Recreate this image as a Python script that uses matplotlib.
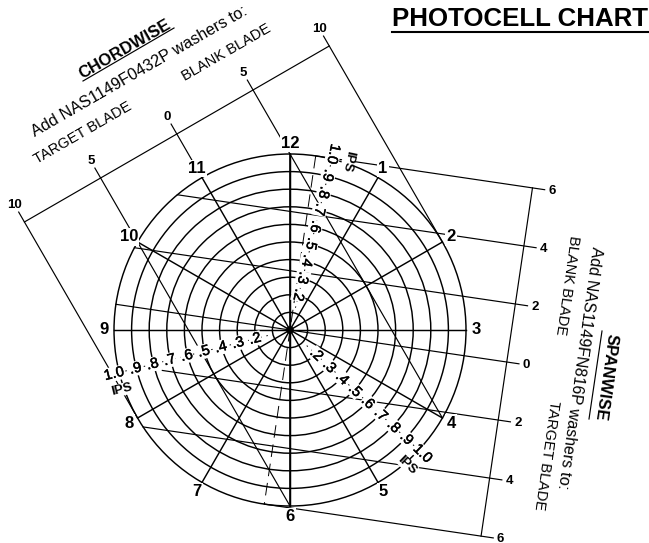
import numpy as np
import matplotlib
matplotlib.use("Agg")
import matplotlib.pyplot as plt
import matplotlib.patheffects as pe
from matplotlib.patches import Circle

plt.rcParams['font.family'] = ['Liberation Sans', 'DejaVu Sans']

# ---- data ----
ips_rings = [.1, .2, .3, .4, .5, .6, .7, .8, .9, 1.0]
clock_hours = [12, 1, 2, 3, 4, 5, 6, 7, 8, 9, 10, 11]
chord_ticks = [-10, -5, 0, 5, 10]
span_ticks = [6, 4, 2, 0, -2, -4, -6]
ips_label_values = [.2, .3, .4, .5, .6, .7, .8, .9, 1.0]
ips_label_text = ['.2', '.3', '.4', '.5', '.6', '.7', '.8', '.9', '1.0']
ips_scale_angles = [13.8, 133.0, 256.0]     # clock bearing of each printed scale
ips_scale_rot = [-102, -44, 14]
ips_word_angles = [19.0, 139.0, 250.5]
span_tilt = 8.4
span_left_limit = {-2: -0.684}

W, H = 649, 543
CX, CY, R = 290.0, 330.0, 176.0

fig = plt.figure(figsize=(W / 100, H / 100), dpi=100)
ax = fig.add_axes([0, 0, 1, 1])
ax.set_xlim(-CX / R, (W - CX) / R)
ax.set_ylim(-(H - CY) / R, CY / R)
ax.axis('off')


def px(x, y):
    return (x - CX) / R, (CY - y) / R


def polar(r, bearing):
    b = np.radians(bearing)
    return r * np.sin(b), r * np.cos(b)


K = 'black'
white = dict(facecolor='white', edgecolor='none', pad=0.2)
heavy = [pe.withStroke(linewidth=0.35, foreground='black')]

# rings
for r in ips_rings:
    ax.add_patch(Circle((0, 0), r, fill=False, ec=K, lw=1.05, zorder=2))

# radials
for h in clock_hours:
    x, y = polar(1.0, h * 30)
    ax.plot([0, x], [0, y], color=K, lw=1.05, zorder=2)
ax.plot([0, 0], [-1, 1], color=K, lw=1.2, zorder=2)
ax.add_patch(Circle((0, 0), 0.022, fc=K, ec='none', zorder=3))

# chordwise axis and lines
a = np.array(polar(1, 60))
d = np.array(polar(1, 150))
T_AX = -1.286
ax.plot(*zip(a * -1 + d * T_AX, a * 1 + d * T_AX), color=K, lw=0.85, zorder=2)
for c in chord_ticks:
    u = c / 10
    p0 = a * u + d * (T_AX - 0.065)
    p1 = a * u + d * (-1.0 if c == 0 else np.sqrt(1 - u ** 2))
    ax.plot(*zip(p0, p1), color=K, lw=0.85, zorder=2)
    lab = a * u + d * (T_AX - 0.112)
    ax.text(*lab, str(abs(c)), fontsize=9.5, weight='bold', ha='center', va='center', zorder=5)

# spanwise axis and lines
n = np.array(polar(1, span_tilt))
e = np.array(polar(1, 90 + span_tilt))
T_SP = 1.245
ax.plot(*zip(n + e * T_SP, -n + e * T_SP), color=K, lw=0.85, zorder=2)
for s in span_ticks:
    u = s / 6
    t0 = span_left_limit.get(s, -np.sqrt(1 - u ** 2))
    p0 = n * u + e * t0
    p1 = n * u + e * (T_SP + 0.07)
    ax.plot(*zip(p0, p1), color=K, lw=0.85, zorder=2)
    lab = n * u + e * (T_SP + 0.112)
    ax.text(*lab, str(abs(s)), fontsize=9.5, weight='bold', ha='center', va='center', zorder=5)

# long-dash zero line of spanwise scale
ax.plot(*zip(n, -n), color=K, lw=0.7, dashes=(13, 7), zorder=2)

# IPS scales
for ang, rot, wang in zip(ips_scale_angles, ips_scale_rot, ips_word_angles):
    x, y = polar(1.0, ang)
    ax.plot([0.13 * x, x], [0.13 * y, y], color=K, lw=0.7, dashes=(1.5, 5), zorder=2)
    for v, t in zip(ips_label_values, ips_label_text):
        ax.text(*polar(v + (0.03 if v == 1.0 else 0.005), ang), t, fontsize=10.5, rotation=rot,
                rotation_mode='anchor', ha='center', va='center', bbox=white, zorder=4,
                path_effects=heavy)
    ax.text(*polar(1.015, wang), 'IPS', fontsize=9.5, weight='bold', rotation=rot,
            rotation_mode='anchor', ha='center', va='center', bbox=white, zorder=4)

# clock labels
for h in clock_hours:
    ax.text(*polar(1.058, h * 30), str(h), fontsize=12, weight='bold', ha='center',
            va='center', bbox=dict(facecolor='white', edgecolor='none', pad=0.8), zorder=5)

# title
ax.text(*px(520.5, 19), 'PHOTOCELL CHART', fontsize=18.6, weight='bold', ha='center', va='center')
ax.plot(*zip(px(392, 32), px(648, 32)), color=K, lw=1.5)

# chordwise notes
ax.text(*px(125, 49), 'CHORDWISE', fontsize=12, weight='bold', rotation=30,
        rotation_mode='anchor', ha='center', va='center')
ax.plot(*zip(px(83, 81), px(174, 28)), color=K, lw=0.85)
ax.text(*px(139, 72), 'Add NAS1149F0432P washers to:', fontsize=11.7, rotation=30,
        rotation_mode='anchor', ha='center', va='center')
ax.text(*px(226, 53), 'BLANK BLADE', fontsize=10.5, rotation=30,
        rotation_mode='anchor', ha='center', va='center')
ax.text(*px(83, 133), 'TARGET BLADE', fontsize=10.5, rotation=30,
        rotation_mode='anchor', ha='center', va='center')

# spanwise notes
ax.text(*px(606, 377), 'SPANWISE', fontsize=12, weight='bold', rotation=-98,
        rotation_mode='anchor', ha='center', va='center')
ax.plot(*zip(px(602, 331), px(589, 419)), color=K, lw=0.85)
ax.text(*px(579, 368), 'Add NAS1149FN816P washers to:', fontsize=11.5, rotation=-98,
        rotation_mode='anchor', ha='center', va='center')
ax.text(*px(567, 285), 'BLANK BLADE', fontsize=10.5, rotation=-98,
        rotation_mode='anchor', ha='center', va='center')
ax.text(*px(546, 455), 'TARGET BLADE', fontsize=10.5, rotation=-98,
        rotation_mode='anchor', ha='center', va='center')

fig.savefig('out.png', dpi=100)
